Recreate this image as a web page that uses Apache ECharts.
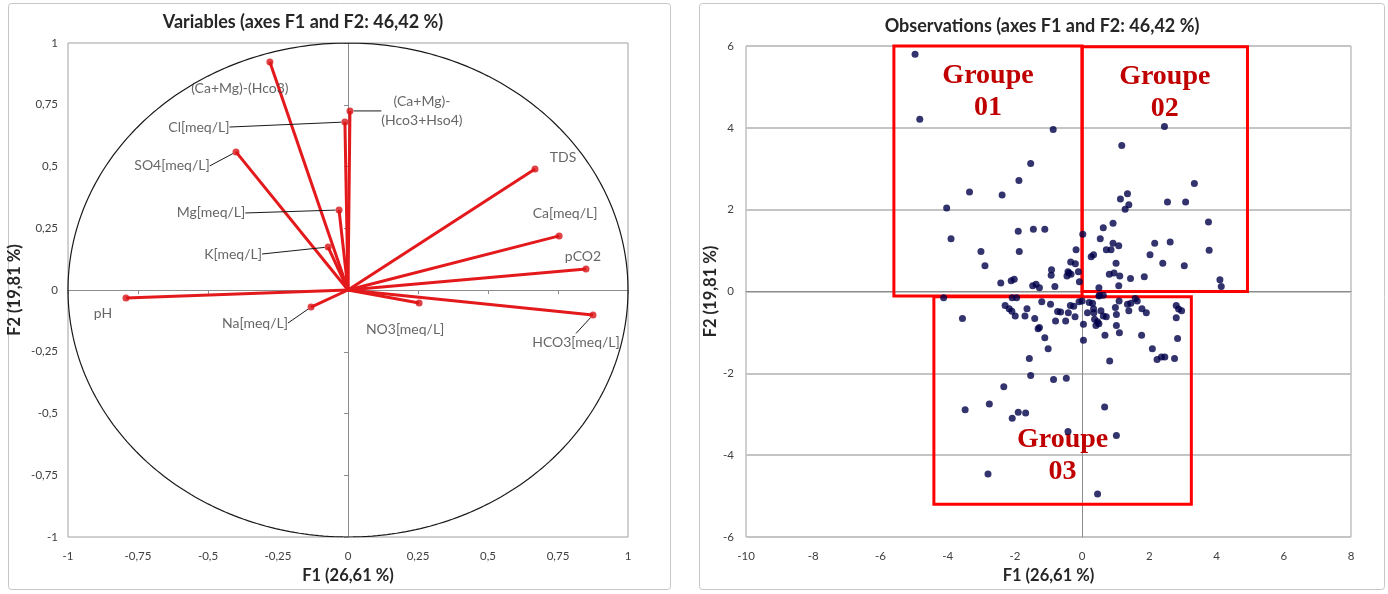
<!DOCTYPE html>
<html>
<head>
<meta charset="utf-8">
<script src="https://cdn.jsdelivr.net/npm/echarts@6/dist/echarts.min.js"></script>
<style>
  html, body { margin: 0; padding: 0; background: #ffffff; }
  #chart { width: 1388px; height: 594px; }
</style>
</head>
<body>
<div id="chart"></div>
<script>
// ---- Correlation circle: variable loadings on F1 / F2 ----
const variableNames = [
  '(Ca+Mg)-(Hco3)', '(Ca+Mg)-\n(Hco3+Hso4)', 'Cl[meq/L]', 'SO4[meq/L]', 'Mg[meq/L]',
  'K[meq/L]', 'TDS', 'Ca[meq/L]', 'pCO2', 'pH', 'Na[meq/L]', 'NO3[meq/L]', 'HCO3[meq/L]'
];
const loadingF1 = [-0.279, 0.007, -0.011, -0.400, -0.032, -0.071, 0.668, 0.754, 0.850, -0.793, -0.132, 0.254, 0.875];
const loadingF2 = [ 0.923, 0.725,  0.680,  0.559,  0.324,  0.174, 0.490, 0.219, 0.085, -0.032, -0.069, -0.053, -0.101];

// ---- Observation scores on F1 / F2 ----
const scoreF1 = [
  -4.97, -4.83, -0.86, -1.53, -1.88, -3.35, -2.38, -4.03, -3.90, -3.01, -2.89, -1.90, -1.87, -1.45, -1.11,
  -2.42, -2.11, -2.02, -1.47, -1.37, -1.27, -0.92, -0.91, -0.81, -0.45, -0.39, -0.33, -0.42, -0.34, -0.20,
  -0.18, 0.02, -0.08, -0.11,
  2.45, 1.18, 3.34, 1.14, 1.35, 1.39, 1.28, 2.54, 3.08, 3.76, 3.78, 2.62, 2.16, 2.02, 2.40, 3.04, 4.10,
  4.14, 0.92, 0.63, 0.54, 0.92, 1.09, 0.72, 0.86, 0.27, 0.34, 1.01, 0.81, 0.95, 1.12, 1.44, 1.85, 1.09, 0.50,
  -4.12, -3.56, -2.29, -2.17, -2.09, -1.99, -2.08, -1.95, -1.70, -1.64, -1.41, -1.31, -1.27, -1.11, -1.01,
  -0.94, -1.20, -0.79, -0.73, -0.49, -0.41, -0.35, -0.21, -0.09, 0.00, 0.04, 0.04, 0.16, 0.21, 0.31, 0.34,
  0.37, 0.46, 0.41, 0.50, 0.56, 0.63, 0.72, 0.52, 0.63, 0.68, 0.82, 0.99, 1.02, 1.02, 1.10, 1.11, 1.35,
  1.39, 1.45, 1.58, 1.64, 1.78, 1.91, 1.77, 2.09, 2.23, 2.36, 2.46, 2.75, 2.80, 2.87, 2.96, 2.80, 2.84,
  -1.57, -1.53, -0.85, -0.47, -2.33, -2.76, -3.48, -1.90, -1.68, -2.08, 0.67, -0.42, 1.02, -2.80, 0.46,
  0.50, -0.25, -0.64, 0.35
];
const scoreF2 = [
  5.80, 4.21, 3.96, 3.13, 2.71, 2.43, 2.36, 2.04, 1.29, 0.98, 0.63, 1.47, 0.98, 1.52, 1.52,
  0.21, 0.26, 0.30, 0.14, 0.18, 0.09, 0.40, 0.53, 0.12, 0.38, 0.45, 0.42, 0.48, 0.72, 0.68,
  1.02, 1.40, 0.24, 0.48,
  4.03, 3.57, 2.64, 2.26, 2.39, 2.12, 2.01, 2.19, 2.19, 1.70, 1.01, 1.21, 1.18, 0.90, 0.69, 0.63, 0.29,
  0.12, 1.67, 1.56, 1.29, 1.18, 1.12, 1.02, 1.02, 0.85, 0.90, 0.69, 0.42, 0.45, 0.38, 0.32, 0.36, 0.14, 0.09,
  -0.15, -0.66, -0.34, -0.42, -0.48, -0.60, -0.15, -0.15, -0.60, -0.42, -0.66, -0.91, -0.88, -1.13, -1.40,
  -0.31, -0.25, -0.72, -0.49, -0.72, -0.52, -0.34, -0.62, -0.25, -0.23, -0.80, -1.19, -0.52, -0.27, -0.29, -0.42,
  -0.68, -0.74, -0.83, -0.79, -0.47, -0.60, -0.62, -0.09, -0.09, -1.07, -1.70, -0.39, -0.56, -0.83, -0.23, -1.01, -0.31,
  -0.47, -0.29, -0.17, -0.23, -0.42, -0.52, -1.07, -1.40, -1.66, -1.60, -1.60, -1.64, -0.34, -0.43, -0.47, -0.64, -1.15,
  -1.64, -2.05, -2.15, -2.12, -2.33, -2.75, -2.89, -2.95, -2.97, -3.10, -2.82, -3.42, -3.52, -4.46, -4.95,
  -0.11, -0.36, -0.50, -0.52
];

// ---- Group outlines on the observation map: [F1 min, F2 max, F1 max, F2 min] ----
const groupNames = ['Groupe\n01', 'Groupe\n02', 'Groupe\n03'];
const groupBoxes = [
  [-5.60, 6.05, 0.00, -0.11],
  [ 0.00, 5.98, 4.92,  0.00],
  [-4.41, -0.13, 3.25, -5.20]
];

// ---- Axis setup ----
const loadingTicks = { min: -1, max: 1, step: 0.25 };
const scoreTicksX = { min: -10, max: 8, step: 2 };
const scoreTicksY = { min: -6, max: 6, step: 2 };

// Label offsets (px) of each variable name relative to its arrow tip, and whether a leader line is drawn
const labelOffset = [
  [-30, 26], [72, 0], [-146, 5], [-64, 14], [-128, 3], [-95, 7], [28, -11],
  [6, -22], [-3, -13], [-23, 16], [-56, 16], [-14, 26], [-17, 28]
];
const labelLeader = [false, true, true, true, true, true, false, false, false, false, true, false, true];

const decimalComma = v => String(v).replace('.', ',');
const FONT = 'Lato, "Open Sans", sans-serif';
const textGrey = '#404040';
const titleColor = '#262626';

// Unit circle outline
const circlePts = [];
for (let a = 0; a <= 360; a += 1) {
  const r = a * Math.PI / 180;
  circlePts.push([Math.cos(r), Math.sin(r)]);
}

const vectorData = variableNames.map((n, i) => ({ coords: [[0, 0], [loadingF1[i], loadingF2[i]]] }));
const tipData = variableNames.map((n, i) => ({
  name: n,
  value: [loadingF1[i], loadingF2[i]],
  labelLine: { show: labelLeader[i] }
}));
const obsData = scoreF1.map((x, i) => [x, scoreF2[i]]);

const markAreaData = groupBoxes.map((b, i) => [
  {
    name: groupNames[i],
    coord: [b[0], b[1]],
    label: i === 2
      ? { position: 'insideBottom', distance: 18 }
      : { position: 'insideTop', distance: 15 }
  },
  { coord: [b[2], b[3]] }
]);

const axisNameStyle = { fontWeight: 'bold', fontSize: 16.5, color: titleColor };

const chart = echarts.init(document.getElementById('chart'), null, { renderer: 'canvas' });

chart.setOption({
  backgroundColor: '#ffffff',
  animation: false,
  textStyle: { fontFamily: FONT },
  graphic: [
    { type: 'rect', shape: { x: 8.5, y: 3.5, width: 662, height: 586, r: 3 },
      style: { fill: 'none', stroke: '#c6c6c6', lineWidth: 1 }, z: 0 },
    { type: 'rect', shape: { x: 699.5, y: 3.5, width: 685, height: 586, r: 3 },
      style: { fill: 'none', stroke: '#c6c6c6', lineWidth: 1 }, z: 0 },
    { type: 'text', x: 303, y: 22, z: 10,
      style: { text: 'Variables (axes F1 and F2: 46,42 %)', font: 'bold 18px ' + FONT,
               fill: titleColor, textAlign: 'center', textVerticalAlign: 'middle' } },
    { type: 'text', x: 1042, y: 26, z: 10,
      style: { text: 'Observations (axes F1 and F2: 46,42 %)', font: 'bold 18px ' + FONT,
               fill: titleColor, textAlign: 'center', textVerticalAlign: 'middle' } }
  ],
  grid: [
    { left: 68, top: 43, width: 560, height: 494, show: true, borderColor: '#a0a0a0', borderWidth: 1 },
    { left: 746, top: 46, width: 605, height: 491, show: true, borderColor: '#a0a0a0', borderWidth: 1 }
  ],
  xAxis: [
    { // F1 labels, left chart
      gridIndex: 0, type: 'value', min: loadingTicks.min, max: loadingTicks.max, interval: loadingTicks.step,
      position: 'bottom', axisLine: { show: false, onZero: false }, axisTick: { show: false },
      splitLine: { show: false },
      axisLabel: { formatter: decimalComma, color: textGrey, fontSize: 11.5, margin: 13 },
      name: 'F1 (26,61 %)', nameLocation: 'middle', nameGap: 28, nameTextStyle: axisNameStyle
    },
    { // horizontal zero axis through the circle
      gridIndex: 0, type: 'value', min: loadingTicks.min, max: loadingTicks.max, interval: loadingTicks.step,
      axisLine: { show: true, onZero: true, lineStyle: { color: '#8c8c8c', width: 1 } },
      axisTick: { show: true, inside: true, length: 4, lineStyle: { color: '#8c8c8c' } },
      axisLabel: { show: false }, splitLine: { show: false }
    },
    { // F1 labels, right chart
      gridIndex: 1, type: 'value', min: scoreTicksX.min, max: scoreTicksX.max, interval: scoreTicksX.step,
      position: 'bottom', axisLine: { show: false, onZero: false }, axisTick: { show: false },
      splitLine: { show: false },
      axisLabel: { color: textGrey, fontSize: 11.5, margin: 13 },
      name: 'F1 (26,61 %)', nameLocation: 'middle', nameGap: 28, nameTextStyle: axisNameStyle
    },
    { // horizontal zero line, right chart
      gridIndex: 1, type: 'value', min: scoreTicksX.min, max: scoreTicksX.max, interval: scoreTicksX.step,
      axisLine: { show: true, onZero: true, lineStyle: { color: '#8c8c8c', width: 1 } },
      axisTick: { show: false }, axisLabel: { show: false }, splitLine: { show: false }
    }
  ],
  yAxis: [
    {
      gridIndex: 0, type: 'value', min: loadingTicks.min, max: loadingTicks.max, interval: loadingTicks.step,
      position: 'left', axisLine: { show: false, onZero: false }, axisTick: { show: false },
      splitLine: { show: false },
      axisLabel: { formatter: decimalComma, color: textGrey, fontSize: 11.5, margin: 10 },
      name: 'F2 (19,81 %)', nameLocation: 'middle', nameGap: 45, nameTextStyle: axisNameStyle
    },
    {
      gridIndex: 0, type: 'value', min: loadingTicks.min, max: loadingTicks.max, interval: loadingTicks.step,
      axisLine: { show: true, onZero: true, lineStyle: { color: '#8c8c8c', width: 1 } },
      axisTick: { show: true, inside: true, length: 4, lineStyle: { color: '#8c8c8c' } },
      axisLabel: { show: false }, splitLine: { show: false }
    },
    {
      gridIndex: 1, type: 'value', min: scoreTicksY.min, max: scoreTicksY.max, interval: scoreTicksY.step,
      position: 'left', axisLine: { show: false, onZero: false }, axisTick: { show: false },
      splitLine: { show: true, lineStyle: { color: '#c4c4c4', width: 2 } },
      axisLabel: { color: textGrey, fontSize: 11.5, margin: 12 },
      name: 'F2 (19,81 %)', nameLocation: 'middle', nameGap: 23, nameTextStyle: axisNameStyle
    },
    {
      gridIndex: 1, type: 'value', min: scoreTicksY.min, max: scoreTicksY.max, interval: scoreTicksY.step,
      axisLine: { show: true, onZero: true, lineStyle: { color: '#8c8c8c', width: 1 } },
      axisTick: { show: false }, axisLabel: { show: false }, splitLine: { show: false }
    }
  ],
  series: [
    {
      name: 'circle', type: 'line', xAxisIndex: 0, yAxisIndex: 0, data: circlePts,
      showSymbol: false, symbol: 'none', silent: true, smooth: false,
      lineStyle: { color: '#1a1a1a', width: 1.2 }, z: 2
    },
    {
      name: 'vectors', type: 'lines', coordinateSystem: 'cartesian2d', xAxisIndex: 0, yAxisIndex: 0,
      data: vectorData, silent: true,
      lineStyle: { color: '#e3191c', width: 3, opacity: 1 }, z: 3
    },
    {
      name: 'variables', type: 'scatter', xAxisIndex: 0, yAxisIndex: 0, data: tipData,
      symbolSize: 7, itemStyle: { color: '#d81418' }, z: 4,
      label: {
        show: true, formatter: p => p.name, color: textGrey, fontSize: 14,
        lineHeight: 19, align: 'center'
      },
      labelLine: { show: false, lineStyle: { color: '#1a1a1a', width: 1 } },
      labelLayout: p => {
        const o = labelOffset[p.dataIndex];
        return {
          x: p.rect.x + p.rect.width / 2 + o[0],
          y: p.rect.y + p.rect.height / 2 + o[1],
          align: 'center', verticalAlign: 'middle'
        };
      }
    },
    {
      name: 'observations', type: 'scatter', xAxisIndex: 2, yAxisIndex: 2, data: obsData,
      symbolSize: 7, itemStyle: { color: '#00004a' }, z: 4
    },
    {
      name: 'groups', type: 'scatter', xAxisIndex: 2, yAxisIndex: 2, data: [], clip: false, z: 5,
      markArea: {
        silent: true,
        itemStyle: { color: 'rgba(0,0,0,0)', borderColor: '#ff0000', borderWidth: 3 },
        label: {
          show: true, color: '#c00000', fontFamily: '"Liberation Serif", "Times New Roman", serif',
          fontWeight: 'bold', fontSize: 28, lineHeight: 32, align: 'center'
        },
        data: markAreaData
      }
    }
  ]
});
</script>
</body>
</html>
